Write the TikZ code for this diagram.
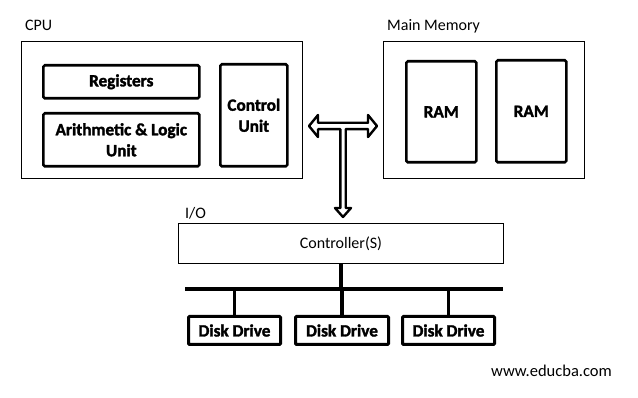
\documentclass[tikz,border=0pt]{standalone}
\usepackage{fontspec}
\setmainfont{Carlito}
\newfontfamily\heavyfont[FakeBold=1.8]{Carlito Bold}
\begin{document}
\begin{tikzpicture}[x=1pt,y=-1pt,
  outerbox/.style={draw,line width=0.9pt,anchor=north west,inner sep=0pt},
  unitbox/.style={draw,line width=2.6pt,rounded corners=1.5pt,anchor=north west,
    inner sep=0pt,align=center,font=\fontsize{17.2}{21}\heavyfont},
  drivebox/.style={unitbox,line width=3pt,rounded corners=1pt},
  grouplabel/.style={anchor=west,inner sep=0pt,font=\fontsize{16}{19}\selectfont},
  busline/.style={line width=3.5pt},
  hollowarrow/.style={draw=black,fill=white,line width=2.4pt,line join=round}
]
\useasboundingbox (0,0) rectangle (638,398);

% CPU
\node[grouplabel] (cpulbl) at (25,25) {CPU};
\node[outerbox,minimum width=281pt,minimum height=137pt] (cpu) at (21,41) {};
\node[unitbox,minimum width=156pt,minimum height=33pt] (reg) at (42,64) {Registers};
\node[unitbox,minimum width=156pt,minimum height=53pt] (alu) at (42,112) {Arithmetic \& Logic\\Unit};
\node[unitbox,minimum width=67pt,minimum height=102pt] (cu) at (219,63) {Control\\Unit};

% Main memory
\node[grouplabel] (memlbl) at (387,26) {Main Memory};
\node[outerbox,minimum width=201pt,minimum height=137pt] (mem) at (383,41) {};
\node[unitbox,minimum width=70pt,minimum height=101pt] (ram1) at (405,60) {RAM};
\node[unitbox,minimum width=70pt,minimum height=102pt] (ram2) at (495,59) {RAM};

% I/O
\node[grouplabel] (iolbl) at (185,213) {I/O};
\node[outerbox,minimum width=325pt,minimum height=40pt,
  font=\fontsize{16}{19}\selectfont] (ctrl) at (178,223) {Controller(S)};
\node[drivebox,minimum width=92pt,minimum height=28pt] (disk1) at (187,315) {Disk Drive};
\node[drivebox,minimum width=93pt,minimum height=28pt] (disk2) at (294,315) {Disk Drive};
\node[drivebox,minimum width=92pt,minimum height=28pt] (disk3) at (401,315) {Disk Drive};

% system bus: hollow T-shaped arrow linking CPU, memory and I/O
\coordinate (busW) at (309,126);
\draw[hollowarrow] (busW)
  -- ++(9,-11) -- ++(0,7.8) -- ++(50,0) -- ++(0,-7.8)
  -- ++(9,11) coordinate (busE)
  -- ++(-9,11) -- ++(0,-7.8) -- ++(-22.3,0) -- ++(0,78.8)
  -- ++(5.3,0) -- ++(-8,9) coordinate (busS)
  -- ++(-8,-9) -- ++(5.3,0) -- ++(0,-78.8) -- ++(-22.3,0)
  -- ++(0,7.8) -- cycle;

% device bus
\coordinate (devW) at (185,289);
\coordinate (devE) at (503,289);
\draw[busline] (devW) -- (devE);
\draw[busline] (ctrl.south) -- (ctrl.south |- devW);
\draw[busline] (disk1.north |- devW) -- (disk1.north);
\draw[busline] (disk2.north |- devW) -- (disk2.north);
\draw[busline] (disk3.north |- devW) -- (disk3.north);

\node[grouplabel,font=\fontsize{16.5}{19}\selectfont] (site) at (491,371) {www.educba.com};
\end{tikzpicture}
\end{document}
